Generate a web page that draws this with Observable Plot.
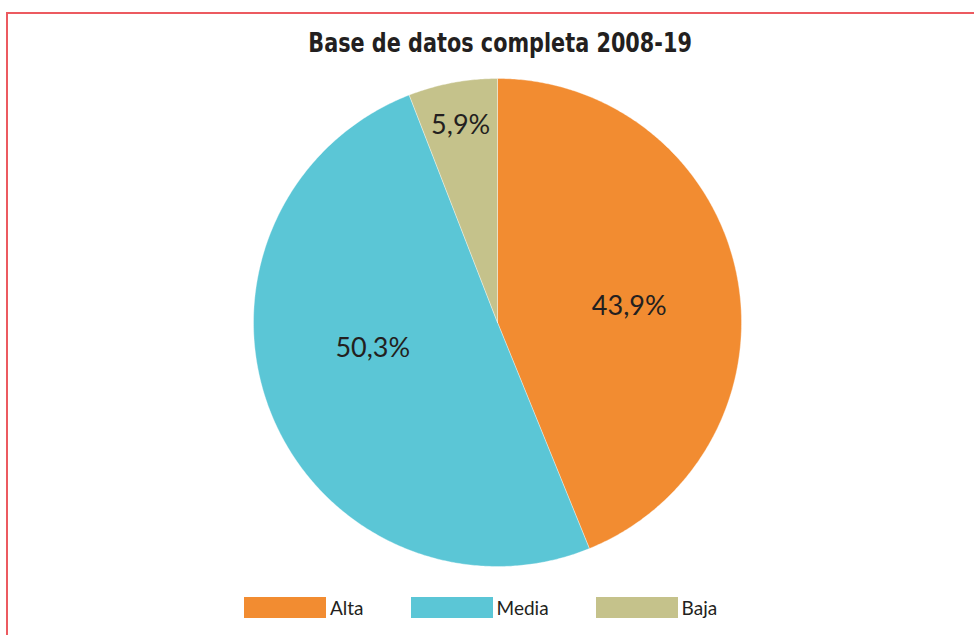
<!DOCTYPE html>
<html>
<head>
<meta charset="utf-8">
<script src="https://cdn.jsdelivr.net/npm/d3@7"></script>
<script src="https://cdn.jsdelivr.net/npm/@observablehq/plot@0.6"></script>
<style>
  html, body { margin: 0; padding: 0; background: #fff; }
  #wrap { position: relative; width: 974px; height: 635px; overflow: hidden; font-family: Lato, "Open Sans", sans-serif; color: #231f20; }
  #frame { position: absolute; left: 6px; top: 12px; width: 1000px; height: 700px; border-top: 2px solid #ec5a60; border-left: 2px solid #ec5a60; }
  #titlebox { position: absolute; top: 27px; left: 0; width: 1000px; text-align: center; }
  #title { display: inline-block; transform: scaleX(0.77); transform-origin: center; font-family: "DejaVu Sans", sans-serif; font-weight: bold; font-size: 27px; color: #231f20; }
  #chart { position: absolute; top: 70px; left: 0; }
  #legend { position: absolute; top: 596px; left: 244px; display: flex; align-items: center; font-size: 19px; font-weight: 400; color: #231f20; }
  .item { display: flex; align-items: center; margin-right: 47px; }
  .sw { width: 82px; height: 21px; margin-right: 4px; }
</style>
</head>
<body>
<div id="wrap">
  <div id="frame"></div>
  <div id="titlebox"><span id="title"></span></div>
  <div id="chart"></div>
  <div id="legend"></div>
</div>
<script>
// ---- data ----
const titleText = "Base de datos completa 2008-19";
const categories = ["Alta", "Media", "Baja"];
const values = [43.9, 50.3, 5.9];
const labels = ["43,9%", "50,3%", "5,9%"];
const colors = ["#f28c31", "#5bc6d6", "#c5c28b"];

// ---- layout (not data) ----
const labelRadius = [0.55, 0.55, 0.82];
const labelDy = [10, -24, 0];

document.getElementById("title").textContent = titleText;

const slices = d3.pie().sort(null).value(d => d.value)(
  categories.map((c, i) => ({key: c, value: values[i], label: labels[i]}))
);

// Build outline points of each slice in unit-circle coordinates
const pts = [];
for (const s of slices) {
  const key = s.data.key;
  pts.push({key, x: 0, y: 0});
  const n = Math.max(2, Math.ceil((s.endAngle - s.startAngle) / (Math.PI / 360)));
  for (let k = 0; k <= n; k++) {
    const a = s.startAngle + (s.endAngle - s.startAngle) * k / n;
    pts.push({key, x: Math.sin(a), y: Math.cos(a)});
  }
  pts.push({key, x: 0, y: 0});
}

const labelMarks = slices.map((s, i) => {
  const a = (s.startAngle + s.endAngle) / 2;
  const r = labelRadius[i];
  return Plot.text([{x: Math.sin(a) * r, y: Math.cos(a) * r, t: s.data.label}], {
    x: "x", y: "y", text: "t", dy: labelDy[i],
    fontSize: 27, fontWeight: 400, fill: "#231f20",
    fontFamily: "Lato, 'Open Sans', sans-serif"
  });
});

const chart = Plot.plot({
  width: 974,
  height: 510,
  marginLeft: 253,
  marginRight: 233,
  marginTop: 8,
  marginBottom: 14,
  x: {domain: [-1, 1], axis: null},
  y: {domain: [-1, 1], axis: null},
  color: {domain: categories, range: colors},
  marks: [
    Plot.line(pts, {x: "x", y: "y", z: "key", fill: "key", stroke: "#ffffff", strokeWidth: 0.6, strokeOpacity: 0.6, curve: "linear"}),
    ...labelMarks
  ]
});
document.getElementById("chart").appendChild(chart);

const legend = document.getElementById("legend");
categories.forEach((c, i) => {
  const item = document.createElement("div");
  item.className = "item";
  const sw = document.createElement("div");
  sw.className = "sw";
  sw.style.background = colors[i];
  const t = document.createElement("span");
  t.textContent = c;
  item.appendChild(sw);
  item.appendChild(t);
  legend.appendChild(item);
});
</script>
</body>
</html>
